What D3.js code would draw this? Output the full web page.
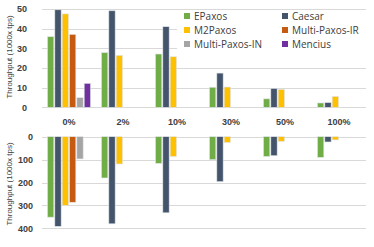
<!DOCTYPE html>
<html>
<head>
<meta charset="utf-8">
<script src="https://cdn.jsdelivr.net/npm/d3@7"></script>
<style>
  body { margin: 0; background: #fff; }
  text { font-family: "Liberation Sans", Arial, sans-serif; }
</style>
</head>
<body>
<svg id="chart" width="374" height="247"></svg>
<script>
// categories and series
const categories = ['0%', '2%', '10%', '30%', '50%', '100%']
const series = ['EPaxos', 'Caesar', 'M2Paxos', 'Multi-Paxos-IR', 'Multi-Paxos-IN', 'Mencius']
const colors = ['#70ad47', '#44546a', '#ffc000', '#c55a11', '#a5a5a5', '#7030a0']

// top panel: throughput (1000x tps)
const topEPaxos = [35.9, 27.8, 27.1, 10.2, 4.3, 2.2]
const topCaesar = [49.6, 49.1, 41, 17.4, 9.6, 2.4]
const topM2Paxos = [47.5, 26.4, 25.7, 10.3, 9.1, 5.5]
const topIR = [37.1, null, null, null, null, null]
const topIN = [4.9, null, null, null, null, null]
const topMencius = [12.2, null, null, null, null, null]

// bottom panel: throughput (1000x tps), drawn downward
const botEPaxos = [351, 180, 116, 100, 86, 90]
const botCaesar = [391, 380, 332, 196, 83, 23]
const botM2Paxos = [299, 119, 86, 25, 20, 14]
const botIR = [286, null, null, null, null, null]
const botIN = [97, null, null, null, null, null]
const botMencius = [null, null, null, null, null, null]

const topTicks = [0, 10, 20, 30, 40, 50]
const botTicks = [0, 100, 200, 300, 400]

const topData = [topEPaxos, topCaesar, topM2Paxos, topIR, topIN, topMencius]
const botData = [botEPaxos, botCaesar, botM2Paxos, botIR, botIN, botMencius]

const svg = d3.select('#chart')
const left = 42
const right = 366

const x = d3.scaleBand().domain(categories).range([left, right])
const xs = d3.scaleBand().domain(series).range([-21.5, 21.5]).paddingInner(0.14)

const yTop = d3.scaleLinear().domain([0, 50]).range([107.3, 9])
const yBot = d3.scaleLinear().domain([0, 400]).range([136.7, 228.4])

// gridlines
function grid (y, ticks) {
  svg.append('g')
    .selectAll('line')
    .data(ticks)
    .join('line')
    .attr('x1', left)
    .attr('x2', right)
    .attr('y1', d => Math.round(y(d)) + 0.5)
    .attr('y2', d => Math.round(y(d)) + 0.5)
    .attr('stroke', '#d9d9d9')
    .attr('stroke-width', 1)
}
grid(yTop, topTicks)
grid(yBot, botTicks)

// y axes (labels only)
function yAxis (y, ticks, pad) {
  const g = svg.append('g')
    .attr('transform', `translate(${left},0)`)
    .call(d3.axisLeft(y).tickValues(ticks).tickSize(0).tickPadding(pad))
  g.select('.domain').remove()
  g.selectAll('text')
    .attr('font-size', 9)
    .attr('font-weight', 'bold')
    .attr('fill', '#404040')
    .style('font-family', '"Liberation Sans", Arial, sans-serif')
}
yAxis(yTop, topTicks, 15)
yAxis(yBot, botTicks, 9)

// bars
function bars (data, y, down) {
  const flat = []
  data.forEach((vals, si) => {
    vals.forEach((v, ci) => {
      if (v != null) flat.push({ s: series[si], si: si, c: categories[ci], v: v })
    })
  })
  svg.append('g')
    .selectAll('rect')
    .data(flat)
    .join('rect')
    .attr('x', d => x(d.c) + x.bandwidth() / 2 + xs(d.s))
    .attr('width', xs.bandwidth())
    .attr('y', d => down ? y(0) : y(d.v))
    .attr('height', d => Math.abs(y(d.v) - y(0)))
    .attr('fill', d => colors[d.si])
    .attr('stroke', '#dfe3e8')
    .attr('stroke-width', 0.6)
}
bars(topData, yTop, false)
bars(botData, yBot, true)

// category labels between the panels
svg.append('g')
  .selectAll('text')
  .data(categories)
  .join('text')
  .attr('x', d => x(d) + x.bandwidth() / 2)
  .attr('y', 125)
  .attr('text-anchor', 'middle')
  .attr('font-size', 9)
  .attr('font-weight', 'bold')
  .attr('fill', '#404040')
  .text(d => d)

// axis titles
function yTitle (cy) {
  svg.append('text')
    .attr('transform', `translate(12,${cy}) rotate(-90)`)
    .attr('text-anchor', 'middle')
    .attr('font-size', 8)
    .attr('fill', '#404040')
    .text('Throughput (1000x tps)')
}
yTitle(57)
yTitle(184)

// legend
const lg = svg.append('g')
lg.append('rect')
  .attr('x', 177)
  .attr('y', 11)
  .attr('width', 190)
  .attr('height', 40)
  .attr('fill', '#fff')
const item = lg.selectAll('g')
  .data(series)
  .join('g')
  .attr('transform', (d, i) => `translate(${i % 2 === 0 ? 184 : 282},${16 + Math.floor(i / 2) * 14})`)
item.append('rect')
  .attr('x', 0)
  .attr('y', -3)
  .attr('width', 6)
  .attr('height', 6)
  .attr('fill', (d, i) => colors[i])
item.append('text')
  .attr('x', 10)
  .attr('y', 3.8)
  .attr('font-size', 10)
  .attr('fill', '#404040')
  .style('font-family', '"Open Sans", sans-serif')
  .text(d => d)
</script>
</body>
</html>
